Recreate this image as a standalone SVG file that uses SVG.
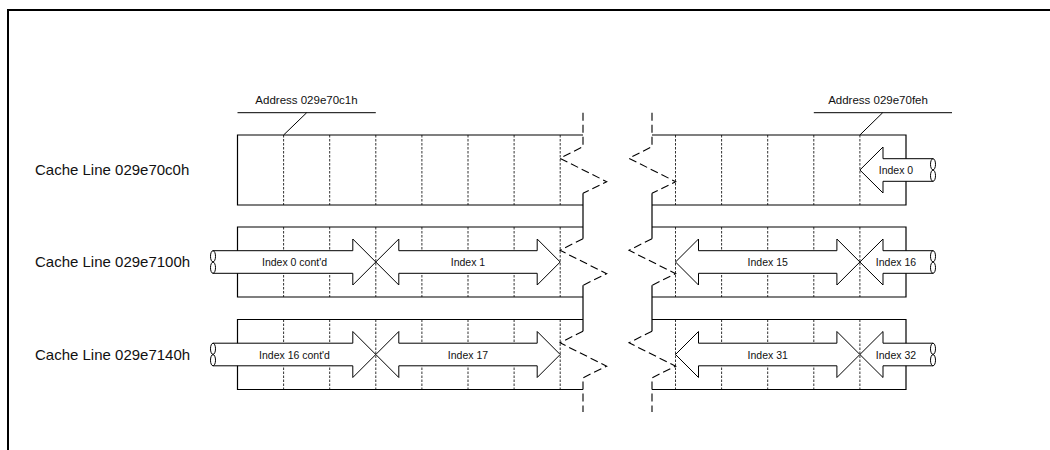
<svg xmlns="http://www.w3.org/2000/svg" width="1050" height="450" viewBox="0 0 1050 450">
<style>
.frame{fill:none;stroke:#000;stroke-width:2}
.edge{fill:none;stroke:#000;stroke-width:1.2}
.div{fill:none;stroke:#333;stroke-width:1;stroke-dasharray:2.5,1.5}
.brk{fill:none;stroke:#000;stroke-width:1.1;stroke-dasharray:8,4}
.arrow{fill:#fff;stroke:#000;stroke-width:1}
.cut{fill:#fff;stroke:#000;stroke-width:1}
.lead{fill:none;stroke:#000;stroke-width:1}
.lbl{font-family:"Liberation Sans",Arial,sans-serif;font-size:15px;fill:#111}
.addr{font-family:"Liberation Sans",Arial,sans-serif;font-size:11.5px;fill:#111;text-anchor:middle}
.idx{font-family:"Liberation Sans",Arial,sans-serif;font-size:10.5px;fill:#111;text-anchor:middle}
</style>
<rect width="1050" height="450" fill="#fff"/>
<path class="frame" d="M8,450 V10 H1050"/>

<g id="row1">
<text class="lbl" x="35" y="175">Cache Line 029e70c0h</text>
<path class="div" d="M283.6,135V205M329.7,135V205M375.8,135V205M421.9,135V205M468,135V205M514.1,135V205M560.2,135V205M675.5,135V205M721.6,135V205M767.7,135V205M813.8,135V205M859.9,135V205"/>
<path class="edge" d="M583,135H237.5V205H583M652,135H906V205H652"/>
</g>
<g id="row2">
<text class="lbl" x="35" y="267">Cache Line 029e7100h</text>
<path class="div" d="M283.6,227V297M329.7,227V297M375.8,227V297M421.9,227V297M468,227V297M514.1,227V297M560.2,227V297M675.5,227V297M721.6,227V297M767.7,227V297M813.8,227V297M859.9,227V297"/>
<path class="edge" d="M583,227H237.5V297H583M652,227H906V297H652"/>
</g>
<g id="row3">
<text class="lbl" x="35" y="359.5">Cache Line 029e7140h</text>
<path class="div" d="M283.6,319.5V389.5M329.7,319.5V389.5M375.8,319.5V389.5M421.9,319.5V389.5M468,319.5V389.5M514.1,319.5V389.5M560.2,319.5V389.5M675.5,319.5V389.5M721.6,319.5V389.5M767.7,319.5V389.5M813.8,319.5V389.5M859.9,319.5V389.5"/>
<path class="edge" d="M583,319.5H237.5V389.5H583M652,319.5H906V389.5H652"/>
</g>

<g id="break-left">
<path class="brk" d="M583,112.7V146.7L560,158.3L606.7,181.7L583,193.3"/>
<path class="edge" d="M583,193.3V238.7M583,285.3V331.2"/>
<path class="brk" d="M583,238.7L560,250.3L606.7,273.7L583,285.3"/>
<path class="brk" d="M583,331.2L560,342.8L606.7,366.2L583,377.8V412"/>
</g>
<g id="break-right">
<path class="brk" d="M652,112.7V146.7L629,158.3L675.7,181.7L652,193.3"/>
<path class="edge" d="M652,193.3V238.7M652,285.3V331.2"/>
<path class="brk" d="M652,238.7L629,250.3L675.7,273.7L652,285.3"/>
<path class="brk" d="M652,331.2L629,342.8L675.7,366.2L652,377.8V412"/>
</g>

<g id="index0">
<path class="arrow" d="M933,158.7H883V147L859.9,170L883,193V181.3H933Z"/>
<ellipse class="cut" cx="933" cy="164.3" rx="2.5" ry="5.6"/>
<ellipse class="cut" cx="933" cy="175.7" rx="2.5" ry="5.6"/>
<text class="idx" x="896" y="174">Index 0</text>
</g>

<g id="index0-contd">
<path class="arrow" d="M213,250.7H352.8V239L375.8,262L352.8,285V273.3H213Z"/>
<ellipse class="cut" cx="213" cy="256.3" rx="2.5" ry="5.6"/>
<ellipse class="cut" cx="213" cy="267.7" rx="2.5" ry="5.6"/>
<text class="idx" x="294.5" y="266">Index 0 cont'd</text>
</g>
<g id="index1">
<path class="arrow" d="M375.8,262L398.8,239V250.7H537.2V239L560.2,262L537.2,285V273.3H398.8V285Z"/>
<text class="idx" x="468" y="266">Index 1</text>
</g>
<g id="index15">
<path class="arrow" d="M675.5,262L698.5,239V250.7H836.9V239L859.9,262L836.9,285V273.3H698.5V285Z"/>
<text class="idx" x="767.7" y="266">Index 15</text>
</g>
<g id="index16">
<path class="arrow" d="M933,250.7H883V239L859.9,262L883,285V273.3H933Z"/>
<ellipse class="cut" cx="933" cy="256.3" rx="2.5" ry="5.6"/>
<ellipse class="cut" cx="933" cy="267.7" rx="2.5" ry="5.6"/>
<text class="idx" x="896" y="266">Index 16</text>
</g>

<g id="index16-contd">
<path class="arrow" d="M213,343.2H352.8V331.5L375.8,354.5L352.8,377.5V365.8H213Z"/>
<ellipse class="cut" cx="213" cy="348.8" rx="2.5" ry="5.6"/>
<ellipse class="cut" cx="213" cy="360.2" rx="2.5" ry="5.6"/>
<text class="idx" x="294.5" y="358.5">Index 16 cont'd</text>
</g>
<g id="index17">
<path class="arrow" d="M375.8,354.5L398.8,331.5V343.2H537.2V331.5L560.2,354.5L537.2,377.5V365.8H398.8V377.5Z"/>
<text class="idx" x="468" y="358.5">Index 17</text>
</g>
<g id="index31">
<path class="arrow" d="M675.5,354.5L698.5,331.5V343.2H836.9V331.5L859.9,354.5L836.9,377.5V365.8H698.5V377.5Z"/>
<text class="idx" x="767.7" y="358.5">Index 31</text>
</g>
<g id="index32">
<path class="arrow" d="M933,343.2H883V331.5L859.9,354.5L883,377.5V365.8H933Z"/>
<ellipse class="cut" cx="933" cy="348.8" rx="2.5" ry="5.6"/>
<ellipse class="cut" cx="933" cy="360.2" rx="2.5" ry="5.6"/>
<text class="idx" x="896" y="358.5">Index 32</text>
</g>

<g id="addr-c1">
<text class="addr" x="306.5" y="104">Address 029e70c1h</text>
</g>
<g id="addr-fe">
<text class="addr" x="878" y="104">Address 029e70feh</text>
</g>
<g id="connectors">
<path class="lead" d="M237.5,112.7H375.8M306.7,112.7L283.6,135"/>
<path class="lead" d="M813.8,112.7H952M882.7,112.7L859.9,135"/>
</g>
</svg>
